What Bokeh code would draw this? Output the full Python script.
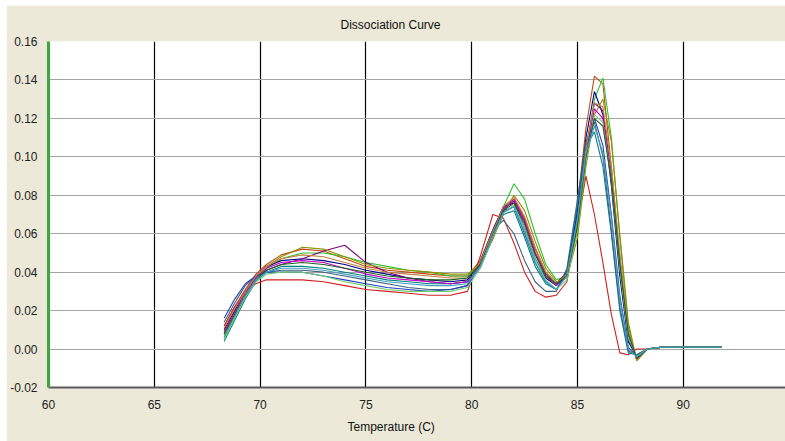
from bokeh.plotting import figure
from bokeh.models import FixedTicker, Range1d, Title, PrintfTickFormatter
from bokeh.embed import file_html
from bokeh.resources import INLINE

# Temperature grid (C)
temperature = [68.3, 68.8, 69.3, 69.8, 70.3, 71.0, 72.0, 73.0, 74.0, 75.0, 76.0, 77.0,
               78.0, 79.0, 79.8, 80.4, 81.0, 81.5, 82.0, 82.5, 83.0, 83.5, 84.0, 84.5,
               85.0, 85.4, 85.8, 86.2, 86.6, 87.0, 87.4, 87.8, 88.3, 89.0, 90.0, 91.8]

# Derivative reporter values, one list per well
well_a = [0.012, 0.022, 0.031, 0.039, 0.044, 0.049, 0.052, 0.051, 0.047, 0.043, 0.041, 0.040,
          0.039, 0.038, 0.038, 0.046, 0.062, 0.074, 0.078, 0.068, 0.052, 0.040, 0.034, 0.040,
          0.075, 0.115, 0.142, 0.138, 0.095, 0.045, 0.006, -0.005, 0.000, 0.001, 0.001, 0.001]
well_b = [0.006, 0.016, 0.027, 0.036, 0.042, 0.047, 0.050, 0.050, 0.048, 0.045, 0.043, 0.041,
          0.040, 0.038, 0.038, 0.044, 0.058, 0.074, 0.086, 0.078, 0.060, 0.044, 0.036, 0.038,
          0.062, 0.100, 0.130, 0.141, 0.110, 0.058, 0.012, -0.006, 0.000, 0.001, 0.001, 0.001]
well_c = [0.010, 0.020, 0.030, 0.038, 0.043, 0.046, 0.047, 0.046, 0.044, 0.041, 0.039, 0.037,
          0.036, 0.035, 0.036, 0.045, 0.062, 0.074, 0.076, 0.063, 0.047, 0.037, 0.033, 0.040,
          0.072, 0.110, 0.134, 0.122, 0.085, 0.038, 0.004, -0.004, 0.000, 0.001, 0.001, 0.001]
well_d = [0.008, 0.018, 0.028, 0.036, 0.041, 0.044, 0.047, 0.051, 0.054, 0.045, 0.040, 0.037,
          0.035, 0.034, 0.035, 0.043, 0.060, 0.073, 0.077, 0.066, 0.050, 0.039, 0.034, 0.040,
          0.068, 0.105, 0.128, 0.124, 0.090, 0.044, 0.007, -0.005, 0.000, 0.001, 0.001, 0.001]
well_e = [0.012, 0.022, 0.030, 0.034, 0.036, 0.036, 0.036, 0.035, 0.033, 0.031, 0.030, 0.029,
          0.028, 0.028, 0.030, 0.048, 0.070, 0.068, 0.055, 0.040, 0.030, 0.027, 0.028, 0.035,
          0.065, 0.090, 0.070, 0.045, 0.018, -0.002, -0.003, 0.000, 0.000, 0.001, 0.001, 0.001]
well_f = [0.004, 0.015, 0.026, 0.035, 0.040, 0.043, 0.043, 0.042, 0.040, 0.038, 0.036, 0.035,
          0.034, 0.034, 0.035, 0.043, 0.058, 0.070, 0.072, 0.058, 0.043, 0.034, 0.031, 0.040,
          0.075, 0.105, 0.113, 0.095, 0.060, 0.020, -0.002, -0.003, 0.000, 0.001, 0.001, 0.001]
well_g = [0.014, 0.024, 0.033, 0.038, 0.040, 0.041, 0.041, 0.040, 0.038, 0.036, 0.034, 0.032,
          0.031, 0.031, 0.033, 0.045, 0.062, 0.067, 0.060, 0.046, 0.035, 0.030, 0.030, 0.042,
          0.078, 0.108, 0.118, 0.100, 0.062, 0.022, -0.001, -0.003, 0.000, 0.001, 0.001, 0.001]
well_h = [0.007, 0.017, 0.028, 0.037, 0.043, 0.048, 0.053, 0.052, 0.048, 0.044, 0.042, 0.041,
          0.040, 0.039, 0.039, 0.044, 0.057, 0.071, 0.080, 0.072, 0.056, 0.042, 0.035, 0.037,
          0.058, 0.095, 0.122, 0.130, 0.108, 0.060, 0.014, -0.006, 0.000, 0.001, 0.001, 0.001]
well_i = [0.009, 0.019, 0.029, 0.037, 0.042, 0.045, 0.046, 0.045, 0.042, 0.039, 0.037, 0.036,
          0.035, 0.034, 0.035, 0.042, 0.058, 0.072, 0.078, 0.067, 0.050, 0.038, 0.033, 0.038,
          0.065, 0.102, 0.125, 0.120, 0.090, 0.045, 0.008, -0.005, 0.000, 0.001, 0.001, 0.001]
well_j = [0.016, 0.026, 0.034, 0.038, 0.040, 0.040, 0.040, 0.038, 0.036, 0.034, 0.032, 0.031,
          0.030, 0.031, 0.033, 0.044, 0.060, 0.072, 0.074, 0.060, 0.045, 0.035, 0.031, 0.039,
          0.070, 0.104, 0.120, 0.106, 0.070, 0.028, 0.001, -0.004, 0.000, 0.001, 0.001, 0.001]
well_k = [0.005, 0.016, 0.027, 0.035, 0.039, 0.040, 0.040, 0.038, 0.035, 0.033, 0.031, 0.030,
          0.030, 0.030, 0.032, 0.042, 0.058, 0.071, 0.075, 0.063, 0.047, 0.036, 0.031, 0.036,
          0.062, 0.098, 0.122, 0.118, 0.088, 0.042, 0.006, -0.004, 0.000, 0.001, 0.001, 0.001]
well_l = [0.011, 0.021, 0.030, 0.038, 0.043, 0.047, 0.049, 0.048, 0.045, 0.042, 0.040, 0.039,
          0.038, 0.037, 0.037, 0.045, 0.061, 0.074, 0.079, 0.069, 0.053, 0.040, 0.034, 0.039,
          0.066, 0.104, 0.128, 0.126, 0.095, 0.050, 0.010, -0.006, 0.000, 0.001, 0.001, 0.001]
well_m = [0.008, 0.018, 0.028, 0.036, 0.041, 0.044, 0.045, 0.044, 0.042, 0.040, 0.038, 0.037,
          0.036, 0.036, 0.037, 0.044, 0.059, 0.072, 0.076, 0.065, 0.049, 0.038, 0.034, 0.038,
          0.064, 0.100, 0.120, 0.116, 0.088, 0.044, 0.008, -0.005, 0.000, 0.001, 0.001, 0.001]
well_n = [0.006, 0.017, 0.028, 0.036, 0.040, 0.042, 0.042, 0.041, 0.039, 0.037, 0.035, 0.034,
          0.033, 0.033, 0.034, 0.043, 0.059, 0.071, 0.074, 0.061, 0.045, 0.035, 0.031, 0.038,
          0.068, 0.102, 0.116, 0.102, 0.068, 0.026, 0.000, -0.004, 0.000, 0.001, 0.001, 0.001]

wells = [well_a, well_b, well_c, well_d, well_e, well_f, well_g,
         well_h, well_i, well_j, well_k, well_l, well_m, well_n]
well_colors = ["#c04a10", "#30c030", "#000080", "#800080", "#d02020", "#008080", "#40607f",
               "#909000", "#c000c0", "#2040c0", "#70d070", "#c08040", "#206020", "#40a0c0"]

x_ticks = [60, 65, 70, 75, 80, 85, 90, 95]
y_ticks = [-0.02, 0.0, 0.02, 0.04, 0.06, 0.08, 0.10, 0.12, 0.14, 0.16]

BEIGE = "#ECE9D8"
FONT = "Liberation Sans"

p = figure(width=779, height=436,
           x_range=Range1d(60, 94.83), y_range=Range1d(-0.02, 0.16),
           output_backend="svg", toolbar_location=None,
           min_border_left=42, min_border_right=0, min_border_top=36, min_border_bottom=54,
           margin=(5, 0, 0, 6))

p.border_fill_color = BEIGE
p.background_fill_color = "white"
p.outline_line_color = None

# title
p.title.text = "Dissociation Curve"
p.title.align = "left"
p.title.offset = 292
p.title.text_font = FONT
p.title.text_font_size = "12px"
p.title.text_font_style = "normal"
p.title.text_color = "#111111"
p.title.standoff = 19

p.add_layout(Title(text="Temperature (C)", align="left", offset=299, text_font=FONT,
                   text_font_size="12px", text_font_style="normal", text_color="#111111",
                   standoff=13), "below")

# axes
p.xaxis.ticker = FixedTicker(ticks=x_ticks)
p.yaxis.ticker = FixedTicker(ticks=y_ticks)
p.yaxis.formatter = PrintfTickFormatter(format="%.2f")
for ax in (p.xaxis[0], p.yaxis[0]):
    ax.major_tick_line_color = None
    ax.minor_tick_line_color = None
    ax.major_label_text_font = FONT
    ax.major_label_text_font_size = "12px"
    ax.major_label_text_color = "#222222"
p.yaxis.axis_line_color = "#3aa83a"
p.yaxis.axis_line_width = 3
p.yaxis.major_label_standoff = 5
p.xaxis.axis_line_color = "#5a5a5a"
p.xaxis.axis_line_width = 2
p.xaxis.major_label_standoff = 6

p.xgrid.grid_line_color = "#000000"
p.xgrid.grid_line_width = 1.2
p.ygrid.grid_line_color = "#a4a4a4"
p.ygrid.grid_line_width = 1.2

for vals, col in zip(wells, well_colors):
    p.line(temperature, vals, line_color=col, line_width=1.1)

open("out.html", "w").write(file_html(p, INLINE))
